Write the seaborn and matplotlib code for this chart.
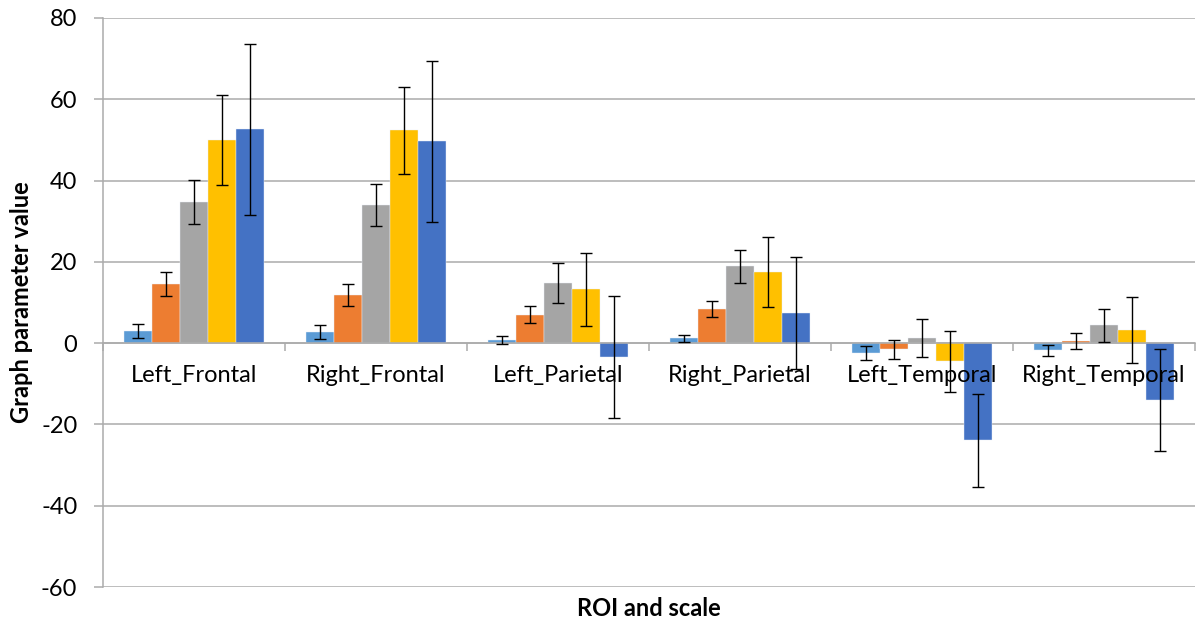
import pandas as pd
import matplotlib
matplotlib.use('Agg')
import matplotlib.pyplot as plt
import seaborn as sns
import numpy as np

# -----------------------------
# Data
# -----------------------------
rois = ['Left_Frontal', 'Right_Frontal', 'Left_Parietal',
        'Right_Parietal', 'Left_Temporal', 'Right_Temporal']
scales = ['Scale 1', 'Scale 2', 'Scale 3', 'Scale 4', 'Scale 5']

scale1 = [3.0, 2.7, 0.8, 1.15, -2.4, -1.8]
scale2 = [14.5, 11.8, 7.0, 8.4, -1.5, 0.5]
scale3 = [34.8, 34.0, 14.8, 18.9, 1.2, 4.4]
scale4 = [49.9, 52.4, 13.2, 17.5, -4.5, 3.2]
scale5 = [52.6, 49.7, -3.4, 7.4, -23.9, -14.0]

err1 = [1.8, 1.8, 0.9, 0.8, 1.65, 1.3]
err2 = [3.0, 2.7, 2.05, 1.9, 2.3, 1.9]
err3 = [5.4, 5.2, 4.8, 4.1, 4.65, 4.1]
err4 = [11.1, 10.7, 9.1, 8.5, 7.55, 8.1]
err5 = [21.1, 19.8, 14.95, 13.7, 11.45, 12.65]

yticks = [-60, -40, -20, 0, 20, 40, 60, 80]

colors = ['#5B9BD5', '#ED7D31', '#A5A5A5', '#FFC000', '#4472C4']
grid_color = '#ABABAB'

# long-form table for seaborn
values = [scale1, scale2, scale3, scale4, scale5]
errors = [err1, err2, err3, err4, err5]
rows = []
for s, vals, errs in zip(scales, values, errors):
    for roi, v, e in zip(rois, vals, errs):
        rows.append({'roi': roi, 'scale': s, 'value': v, 'err': e})
df = pd.DataFrame(rows)

# -----------------------------
# Plot
# -----------------------------
sns.set_theme(style='white')
plt.rcParams['font.family'] = ['Lato', 'DejaVu Sans']
fs = 17

fig = plt.figure(figsize=(11.99, 6.25), dpi=100)
ax = fig.add_axes([0.0859, 0.0608, 0.9108, 0.9104])

# horizontal gridlines behind everything
for t in yticks:
    ax.axhline(t, color=grid_color, linewidth=1.1, zorder=0.5)

sns.barplot(data=df, x='roi', y='value', hue='scale', palette=colors,
            saturation=1, width=0.77, errorbar=None, edgecolor='#EAF0FA',
            linewidth=0.3, legend=False, ax=ax, zorder=2)

# error bars at the bar centres placed by seaborn
for container, s in zip(ax.containers, scales):
    sub = df[df['scale'] == s]
    xs = [b.get_x() + b.get_width() / 2 for b in container]
    ax.errorbar(xs, sub['value'].values, yerr=sub['err'].values, fmt='none',
                ecolor='black', elinewidth=1.0, capsize=4.3, capthick=1.0,
                zorder=4)

# axes styling (Excel-like)
ax.set_ylim(-60, 80)
ax.set_xlim(-0.5, len(rois) - 0.5)
ax.set_yticks(yticks)
ax.set_yticklabels([str(t) for t in yticks], fontsize=fs, color='black')
ax.grid(False)
ax.set_axisbelow(False)

for side in ['top', 'right']:
    ax.spines[side].set_visible(False)
ax.spines['left'].set_color(grid_color)
ax.spines['left'].set_linewidth(1.1)
ax.spines['bottom'].set_position(('data', 0))
ax.spines['bottom'].set_color(grid_color)
ax.spines['bottom'].set_linewidth(1.1)

ax.tick_params(axis='y', which='major', direction='out', length=6.5,
               width=1.1, color=grid_color, pad=12, left=True)
ax.set_xticks(range(len(rois)))
ax.set_xticklabels(rois, fontsize=fs, color='black')
ax.tick_params(axis='x', which='major', length=0, pad=16)
ax.set_xticks(np.arange(-0.5, len(rois)), minor=True)
ax.tick_params(axis='x', which='minor', direction='out', length=6,
               width=1.1, color=grid_color, bottom=True)

ax.set_xlabel('ROI and scale', fontsize=fs, fontweight='bold', color='black')
ax.xaxis.set_label_coords(0.5, -0.018)
ax.set_ylabel('Graph parameter value', fontsize=fs, fontweight='bold',
              color='black', va='center')
ax.yaxis.set_label_coords(-0.075, 0.5)

fig.savefig('out.png', dpi=100)
